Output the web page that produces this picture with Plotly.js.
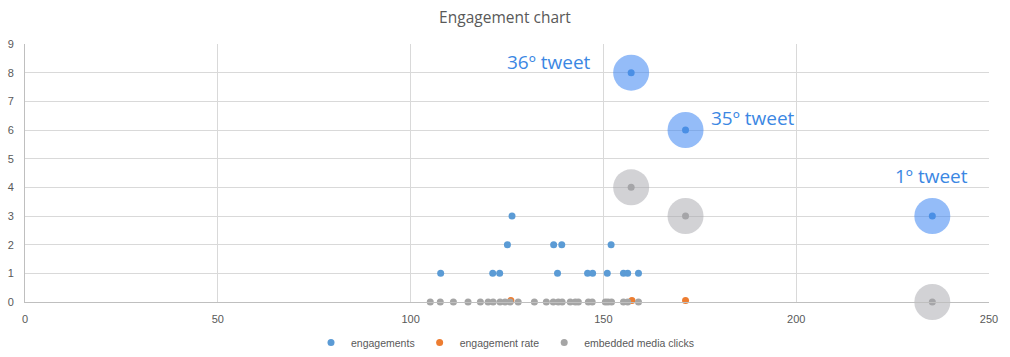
<!DOCTYPE html>
<html>
<head>
<meta charset="utf-8">
<script src="https://cdn.plot.ly/plotly-3.0.1.min.js"></script>
<style>html,body{margin:0;padding:0;background:#fff;}#chart{width:1010px;height:357px;}</style>
</head>
<body>
<div id="chart"></div>
<script>
// engagements series
const engX = [107.8, 121.3, 123.1, 125.1, 126.3, 137.1, 138.1, 139.2, 145.9, 147.2, 151.0, 152.0, 155.2, 156.3, 159.1, 157.2, 171.3, 235.3];
const engY = [1, 1, 1, 2, 3, 2, 1, 2, 1, 1, 1, 2, 1, 1, 1, 8, 6, 3];
// engagement rate series
const rateX = [126.0, 157.4, 171.3];
const rateY = [0.05, 0.05, 0.05];
// embedded media clicks series
const clickX = [105.1, 107.7, 111.1, 114.9, 118.1, 120.1, 121.4, 123.2, 124.5, 125.8, 127.9, 132.1, 135.2, 137.0, 138.3, 139.3, 141.4, 142.7, 143.5, 146.1, 147.1, 150.5, 151.2, 152.1, 155.2, 156.3, 159.1, 157.2, 171.3, 235.3];
const clickY = [0, 0, 0, 0, 0, 0, 0, 0, 0, 0, 0, 0, 0, 0, 0, 0, 0, 0, 0, 0, 0, 0, 0, 0, 0, 0, 0, 4, 3, 0];
// highlighted tweets
const hiX = [157.2, 171.3, 235.3];
const hiEngY = [8, 6, 3];
const hiClickY = [4, 3, 0];
const hiLabels = ["36º tweet", "35º tweet", "1º tweet"];
const labelX = [147.4, 177.5, 225.0];
const labelY = [8.37, 6.42, 4.39];
const labelAnchor = ["right", "left", "left"];
const legendNames = ["engagements", "engagement rate", "embedded media clicks"];

const traces = [
  {x: engX, y: engY, type: 'scatter', mode: 'markers', name: legendNames[0],
   marker: {color: '#5B9BD5', size: 7}, cliponaxis: false},
  {x: rateX, y: rateY, type: 'scatter', mode: 'markers', name: legendNames[1],
   marker: {color: '#ED7D31', size: 7}, cliponaxis: false},
  {x: clickX, y: clickY, type: 'scatter', mode: 'markers', name: legendNames[2],
   marker: {color: '#A5A5A5', size: 7}, cliponaxis: false},
  {x: hiX, y: hiEngY, type: 'scatter', mode: 'markers', showlegend: false, hoverinfo: 'skip',
   marker: {color: 'rgba(60,133,242,0.55)', size: 36}, cliponaxis: false},
  {x: hiX, y: hiClickY, type: 'scatter', mode: 'markers', showlegend: false, hoverinfo: 'skip',
   marker: {color: 'rgba(165,165,171,0.5)', size: 36}, cliponaxis: false}
];

const annotations = hiLabels.map((t, i) => ({
  x: labelX[i], y: labelY[i], xref: 'x', yref: 'y', text: t, showarrow: false,
  xanchor: labelAnchor[i], yanchor: 'middle',
  font: {family: 'Open Sans, sans-serif', size: 19, color: '#3B87E3'}
}));

const tickFont = {family: 'Liberation Sans, Arial, sans-serif', size: 11, color: '#595959'};
const layout = {
  width: 1010, height: 357,
  margin: {l: 25, r: 21, t: 44, b: 55, pad: 0, autoexpand: false},
  paper_bgcolor: '#fff', plot_bgcolor: '#fff',
  title: {text: 'Engagement chart', x: 0.5, xanchor: 'center', y: 0.95, yanchor: 'middle',
    font: {family: 'Open Sans, sans-serif', size: 15.5, color: '#595959'}},
  xaxis: {range: [0, 250], dtick: 50, tick0: 0, showgrid: true, gridcolor: '#d9d9d9',
    zeroline: false, showline: true, linecolor: '#bfbfbf', ticks: '', tickfont: tickFont,
    ticklabelstandoff: 7, automargin: false},
  yaxis: {range: [0, 9], dtick: 1, tick0: 0, showgrid: true, gridcolor: '#d9d9d9',
    zeroline: false, showline: true, linecolor: '#bfbfbf', ticks: '', tickfont: tickFont,
    ticklabelstandoff: 8, automargin: false},
  showlegend: true,
  legend: {orientation: 'h', x: 0.5, xanchor: 'center', xref: 'container',
    y: -0.01, yanchor: 'bottom', yref: 'container',
    font: {family: 'Liberation Sans, Arial, sans-serif', size: 10.5, color: '#595959'},
    itemwidth: 30, tracegroupgap: 0},
  annotations: annotations
};
Plotly.newPlot('chart', traces, layout, {displayModeBar: false, staticPlot: true});
</script>
</body>
</html>
